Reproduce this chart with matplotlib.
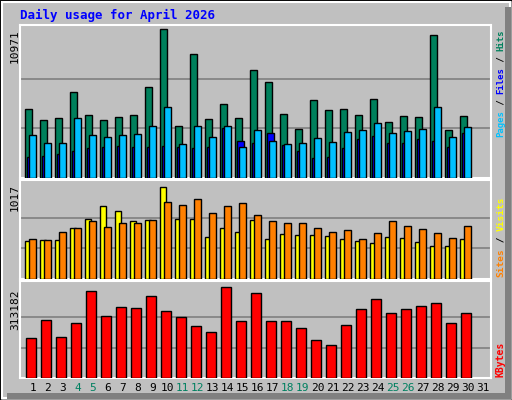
import matplotlib
matplotlib.use("Agg")
import matplotlib.pyplot as plt
from matplotlib.patches import Rectangle
import numpy as np

W, H = 512, 400
days = np.arange(1, 31)
weekend = [4, 5, 11, 12, 18, 19, 25, 26]

hits = [5075, 4254, 4403, 6344, 4627, 4254, 4478, 4627, 6717, 10971, 3806, 9105, 4329, 5448, 4403,
        7985, 7090, 4702, 3582, 5747, 5000, 5075, 4627, 5821, 4105, 4553, 4478, 10523, 3508, 4553]
files = [3134, 2612, 2612, 4403, 3134, 2985, 3134, 3209, 3806, 5224, 2537, 3806, 2985, 3806, 2313,
         3508, 2761, 2537, 2612, 2910, 2687, 3358, 3508, 4030, 3284, 3433, 3582, 5224, 2985, 3731]
pages = [1570, 1640, 1790, 2010, 2240, 2310, 2390, 2310, 2310, 2390, 2310, 2240, 2310, 3660, 2760,
         2610, 3280, 2460, 2010, 1490, 1570, 2240, 2840, 3130, 2610, 2610, 2840, 2760, 2310, 3280]
visits = [420, 430, 430, 564, 664, 808, 752, 641, 652, 1017, 664, 664, 465, 564, 520,
          652, 443, 498, 487, 487, 476, 443, 420, 398, 465, 454, 409, 365, 365, 443]
sites = [443, 432, 520, 564, 641, 575, 619, 619, 652, 855, 822, 888, 730, 808, 840,
         708, 641, 619, 619, 564, 520, 542, 443, 509, 641, 586, 553, 509, 454, 586]
kbytes = [137700, 199600, 141100, 189300, 299400, 213400, 244400, 240900, 282100, 230500, 209900,
          178900, 158300, 313182, 195000, 292400, 195000, 195000, 170900, 129600, 112400, 181300,
          236300, 270700, 225200, 236300, 246600, 256900, 188200, 223000]

BG = "#c0c0c0"
fig = plt.figure(figsize=(W / 100, H / 100), dpi=100)
fig.patch.set_facecolor(BG)

# 3D-ish outer border
fig.add_artist(Rectangle((0, 0), 1, 1, transform=fig.transFigure, fill=False, ec="black", lw=1))
fig.add_artist(Rectangle((2 / W, 2 / H), 1 - 4 / W, 1 - 4 / H, transform=fig.transFigure,
                         fill=False, ec="white", lw=1.5))
fig.add_artist(Rectangle(((W - 7) / W, 1 / H), 6 / W, 1 - 8 / H, transform=fig.transFigure,
                         fc="#808080", ec="none"))
fig.add_artist(Rectangle((7 / W, 1 / H), 1 - 8 / W, 6 / H, transform=fig.transFigure,
                         fc="#808080", ec="none"))


def panel(top, bottom):
    ax = fig.add_axes([20 / W, 1 - bottom / H, 471 / W, (bottom - top) / H])
    ax.set_facecolor(BG)
    ax.set_xlim(0.3, 31.7)
    ax.set_xticks([])
    ax.set_yticks([])
    for s in ax.spines.values():
        s.set_color("white")
        s.set_linewidth(1.5)
    return ax


def bars(ax, vals, off, w, color):
    ax.bar(days + off, vals, width=w, align="edge", color=color, edgecolor="black", lw=1, zorder=3)


mono = "DejaVu Sans Mono"

ax1 = panel(25, 178)
ax1.set_ylim(0, max(hits) * 151 / 147)
for f in (1 / 3, 2 / 3):
    ax1.axhline(max(hits) * f, color="#808080", lw=1.2, zorder=1)
bars(ax1, hits, -0.37, 0.47, "#00805c")
bars(ax1, pages, -0.23, 0.47, "#0000ff")
bars(ax1, files, -0.1, 0.47, "#00c0ff")

ax2 = panel(180, 279)
ax2.set_ylim(0, max(visits) * 99 / 92)
for f in (1 / 3, 2 / 3):
    ax2.axhline(max(visits) * f, color="#808080", lw=1.2, zorder=1)
bars(ax2, visits, -0.37, 0.4, "#ffff00")
bars(ax2, sites, -0.1, 0.47, "#ff8000")

ax3 = panel(281, 378)
ax3.set_ylim(0, max(kbytes) * 97 / 91)
for f in (1 / 3, 2 / 3):
    ax3.axhline(max(kbytes) * f, color="#808080", lw=1.2, zorder=1)
bars(ax3, kbytes, -0.28, 0.67, "#ff0000")

fig.text(20 / W, 1 - 15 / H, "Daily usage for April 2026", color="#0000ff", family=mono,
         fontweight="bold", fontsize=9, va="center")

for ytop, label in ((29, str(max(hits))), (184, str(max(visits))), (290, str(max(kbytes)))):
    fig.text(15 / W, 1 - ytop / H, label, rotation=90, family=mono, fontsize=8, va="top", ha="center")

for d in range(1, 32):
    x = (20 + (d + 0.15 - 0.3) * 15) / W
    fig.text(x, 1 - 388 / H, str(d), ha="center", va="center", fontsize=8, family=mono,
             color="#008060" if d in weekend else "black")

renderer = fig.canvas.get_renderer()


def side_label(parts, ybottom, size):
    y = ybottom
    for txt, col in parts:
        t = fig.text(501 / W, 1 - y / H, txt, rotation=90, color=col, family=mono, fontsize=size,
                     fontweight="bold", ha="center", va="bottom")
        y -= t.get_window_extent(renderer).height


side_label([("Pages", "#00c0ff"), (" / ", "black"), ("Files", "#0000ff"), (" / ", "black"),
            ("Hits", "#00805c")], 137, 6.5)
side_label([("Sites", "#ff8000"), (" / ", "black"), ("Visits", "#ffff00")], 277, 6.8)
side_label([("KBytes", "#ff0000")], 377, 7)

fig.savefig("out.png", dpi=100, facecolor=BG)
